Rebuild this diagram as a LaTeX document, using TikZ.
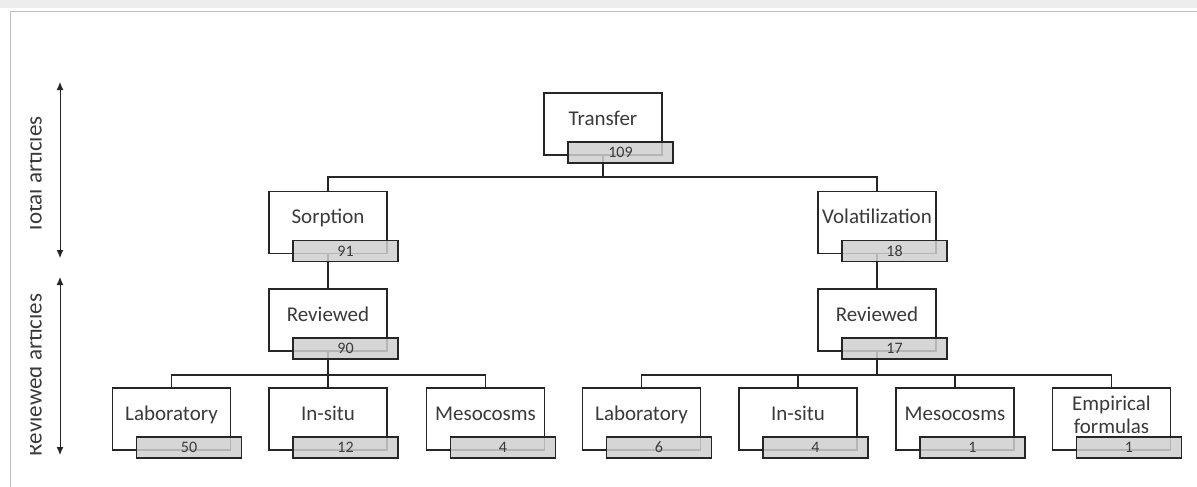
\documentclass[tikz,border=0pt]{standalone}
\usepackage{fontspec}
\setmainfont{Carlito}
\usetikzlibrary{arrows.meta, backgrounds, calc}

\definecolor{txtgray}{HTML}{3A3A3A}
\definecolor{cntgray}{HTML}{CFCFCF}

\tikzset{
	catbox/.style={draw=black!85, fill=white, line width=1.8pt, minimum width=118pt, minimum height=62pt, inner sep=0pt, text=txtgray, font=\fontsize{21}{23}\selectfont, align=center},
	onerow/.style={text height=14pt, text depth=12pt},
	cntbox/.style={draw=black!85, fill=cntgray, fill opacity=0.85, text opacity=1, line width=1.8pt, minimum width=105pt, minimum height=21pt, inner sep=0pt, text=txtgray, font=\fontsize{16}{17}\selectfont, anchor=south east},
	conn/.style={black!85, line width=1.8pt},
	sidelabel/.style={rotate=90, anchor=south, inner sep=0pt, text=txtgray, font=\fontsize{23}{24}\selectfont},
	sidearrow/.style={black!85, line width=1pt, {Latex[length=8pt,width=7pt]}-{Latex[length=8pt,width=7pt]}},
}

\begin{document}
\begin{tikzpicture}[x=1pt, y=-1pt]
		\useasboundingbox (0,0) rectangle (1197,487);
		%% frame
		\fill[black!7] (0,0) rectangle (1197,8);
		\draw[black!25, line width=1pt] (10,487) -- (10,12) -- (1197,12);
		%
		%% side labels
		\begin{scope}
			\clip (30,12) rectangle (1197,487);
			\node[sidelabel] (total) at (42,175) {Total articles};
			\node[sidelabel] (reviewed) at (42,375) {Reviewed articles};
		\end{scope}
		\coordinate (totTop) at (60,82);
		\coordinate (totBot) at (60,258);
		\coordinate (revTop) at (60,277);
		\coordinate (revBot) at (60,455);
		\draw[sidearrow] (totTop) -- (totBot);
		\draw[sidearrow] (revTop) -- (revBot);
		%
		%% upper levels
		\node[catbox, onerow] (transfer) at (603,124) {Transfer};
		\node[cntbox] (transfer-n) at ([shift={(11pt,-8pt)}]transfer.south east) {109};
		\node[catbox, onerow] (sorption) at (328,222.5) {Sorption};
		\node[cntbox] (sorption-n) at ([shift={(11pt,-8pt)}]sorption.south east) {91};
		\node[catbox, onerow] (volat) at (877,222.5) {Volatilization};
		\node[cntbox] (volat-n) at ([shift={(11pt,-8pt)}]volat.south east) {18};
		\node[catbox, onerow] (revS) at (328,320) {Reviewed};
		\node[cntbox] (revS-n) at ([shift={(11pt,-8pt)}]revS.south east) {90};
		\node[catbox, onerow] (revV) at (877,320) {Reviewed};
		\node[cntbox] (revV-n) at ([shift={(11pt,-8pt)}]revV.south east) {17};
		%
		%% bottom row
		\foreach \name/\xx/\txt/\num in {labS/171.5/Laboratory/50, insS/328/In-situ/12, mesS/485.5/Mesocosms/4, labV/641.5/Laboratory/6, insV/798/In-situ/4, mesV/955/Mesocosms/1}{
			\node[catbox, onerow] (\name) at (\xx,419) {\txt};
			\node[cntbox] (\name-n) at ([shift={(11pt,-8pt)}]\name.south east) {\num};
		}
		\node[catbox, text height=38pt, text depth=10pt] (empV) at (1111.5,419) {Empirical\\formulas};
		\node[cntbox] (empV-n) at ([shift={(11pt,-8pt)}]empV.south east) {1};
		%
		%% connectors
		\coordinate (splitT) at ($(transfer.south)+(0,21)$);
		\coordinate (splitS) at ($(revS.south)+(0,23)$);
		\coordinate (splitV) at ($(revV.south)+(0,23)$);
		\begin{scope}[on background layer]
			\draw[conn] (transfer.center) -- (splitT) -| (sorption.north);
			\draw[conn] (splitT) -| (volat.north);
			\draw[conn] (sorption.center) -- (revS.north);
			\draw[conn] (volat.center) -- (revV.north);
			\draw[conn] (revS.center) -- (splitS);
			\draw[conn] (revV.center) -- (splitV);
			\foreach \name in {labS, insS, mesS}{
				\draw[conn] (splitS) -| (\name.north);
			}
			\foreach \name in {labV, insV, mesV, empV}{
				\draw[conn] (splitV) -| (\name.north);
			}
		\end{scope}
	\end{tikzpicture}
\end{document}
